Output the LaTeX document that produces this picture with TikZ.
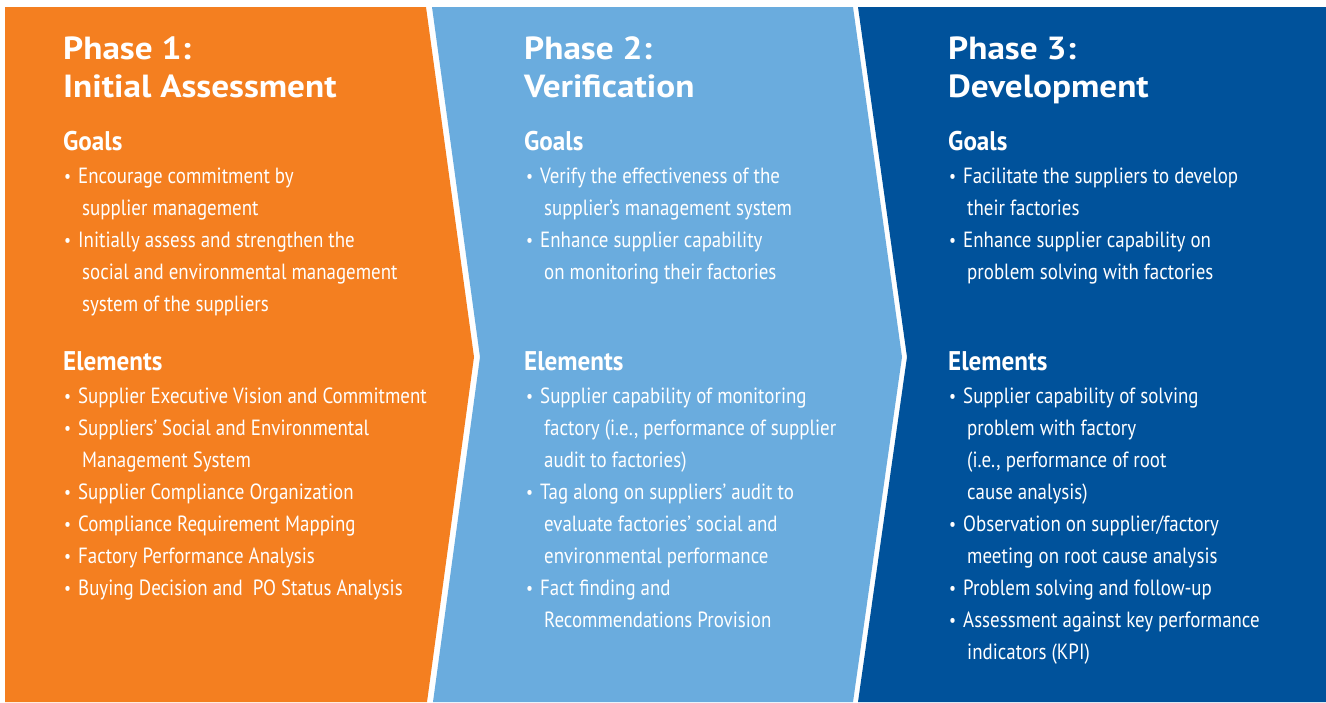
\documentclass[tikz,border=0pt]{standalone}
\usepackage{fontspec}
\setmainfont{PT Sans}
\newfontfamily\bodyfont[FakeStretch=0.86]{PT Sans}
\newfontfamily\subfont[FakeStretch=0.93]{PT Sans}
\newfontfamily\headfont[FakeStretch=1.1]{PT Sans}
\definecolor{phaseorange}{RGB}{244,127,32}
\definecolor{phaselight}{RGB}{106,172,222}
\definecolor{phasedark}{RGB}{0,82,155}
\newcommand{\bul}{\llap{{\fontsize{18}{18}\selectfont\raisebox{1pt}{•}}\hspace{7pt}}}
\newcommand{\cont}{\hspace*{4pt}}
\newcommand{\ts}{\rule{0pt}{24pt}}
\newcommand{\hs}{\rule{0pt}{20pt}}
\newcommand{\is}{\rule{0pt}{18pt}}

\begin{document}
\begin{tikzpicture}[x=1pt,y=-1pt,
  title/.style={anchor=north west, inner sep=0, align=left, text=white,
    font=\headfont\bfseries\fontsize{32}{38.5}\selectfont},
  head/.style={anchor=north west, inner sep=0, text=white,
    font=\subfont\bfseries\fontsize{27}{32}\selectfont},
  item/.style={anchor=north west, inner sep=0, align=left, text=white,
    font=\bodyfont\fontsize{22}{32}\selectfont}]
  \useasboundingbox[fill=white] (0,0) rectangle (1326,702);
  % the three chevrons
  \fill[phaseorange] (5,7) -- (426,7) -- (474,357) -- (427,702) -- (5,702) -- cycle;
  \fill[phaselight] (432,7) -- (853,7) -- (902,357) -- (853,702) -- (433,702) -- (480,357) -- cycle;
  \fill[phasedark] (858,7) -- (1326,7) -- (1326,702) -- (858,702) -- (907,357) -- cycle;

  % Phase 1
  \node[title] (t1) at (63,35) {\ts Phase 1:\\Initial Assessment};
  \node[head] (g1) at (63,130) {\hs Goals};
  \node[item] (g1a) at (78,165) {\is\bul Encourage commitment by\\\cont supplier management};
  \node[item] (g1b) at (78,229) {\is\bul Initially assess and strengthen the\\\cont social and environmental management\\\cont system of the suppliers};
  \node[head] (e1) at (63,350) {\hs Elements};
  \node[item] (e1a) at (78,385) {\is\bul Supplier Executive Vision and Commitment};
  \node[item] (e1b) at (78,417) {\is\bul Suppliers’ Social and Environmental\\\cont Management System};
  \node[item] (e1c) at (78,481) {\is\bul Supplier Compliance Organization};
  \node[item] (e1d) at (78,513) {\is\bul Compliance Requirement Mapping};
  \node[item] (e1e) at (78,545) {\is\bul Factory Performance Analysis};
  \node[item] (e1f) at (78,577) {\is\bul Buying Decision and \ PO Status Analysis};

  % Phase 2
  \node[title] (t2) at (524,35) {\ts Phase 2:\\Verification};
  \node[head] (g2) at (524,130) {\hs Goals};
  \node[item] (g2a) at (540,165) {\is\bul Verify the effectiveness of the\\\cont supplier’s management system};
  \node[item] (g2b) at (540,229) {\is\bul Enhance supplier capability\\\cont on monitoring their factories};
  \node[head] (e2) at (524,350) {\hs Elements};
  \node[item] (e2a) at (540,385) {\is\bul Supplier capability of monitoring\\\cont factory (i.e., performance of supplier\\\cont audit to factories)};
  \node[item] (e2b) at (540,481) {\is\bul Tag along on suppliers’ audit to\\\cont evaluate factories’ social and\\\cont environmental performance};
  \node[item] (e2c) at (540,577) {\is\bul Fact finding and\\\cont Recommendations Provision};

  % Phase 3
  \node[title] (t3) at (948,35) {\ts Phase 3:\\Development};
  \node[head] (g3) at (948,130) {\hs Goals};
  \node[item] (g3a) at (963,165) {\is\bul Facilitate the suppliers to develop\\\cont their factories};
  \node[item] (g3b) at (963,229) {\is\bul Enhance supplier capability on\\\cont problem solving with factories};
  \node[head] (e3) at (948,350) {\hs Elements};
  \node[item] (e3a) at (963,385) {\is\bul Supplier capability of solving\\\cont problem with factory\\\cont (i.e., performance of root\\\cont cause analysis)};
  \node[item] (e3b) at (963,513) {\is\bul Observation on supplier/factory\\\cont meeting on root cause analysis};
  \node[item] (e3c) at (963,577) {\is\bul Problem solving and follow-up};
  \node[item] (e3d) at (963,609) {\is\bul Assessment against key performance\\\cont indicators (KPI)};
\end{tikzpicture}
\end{document}
